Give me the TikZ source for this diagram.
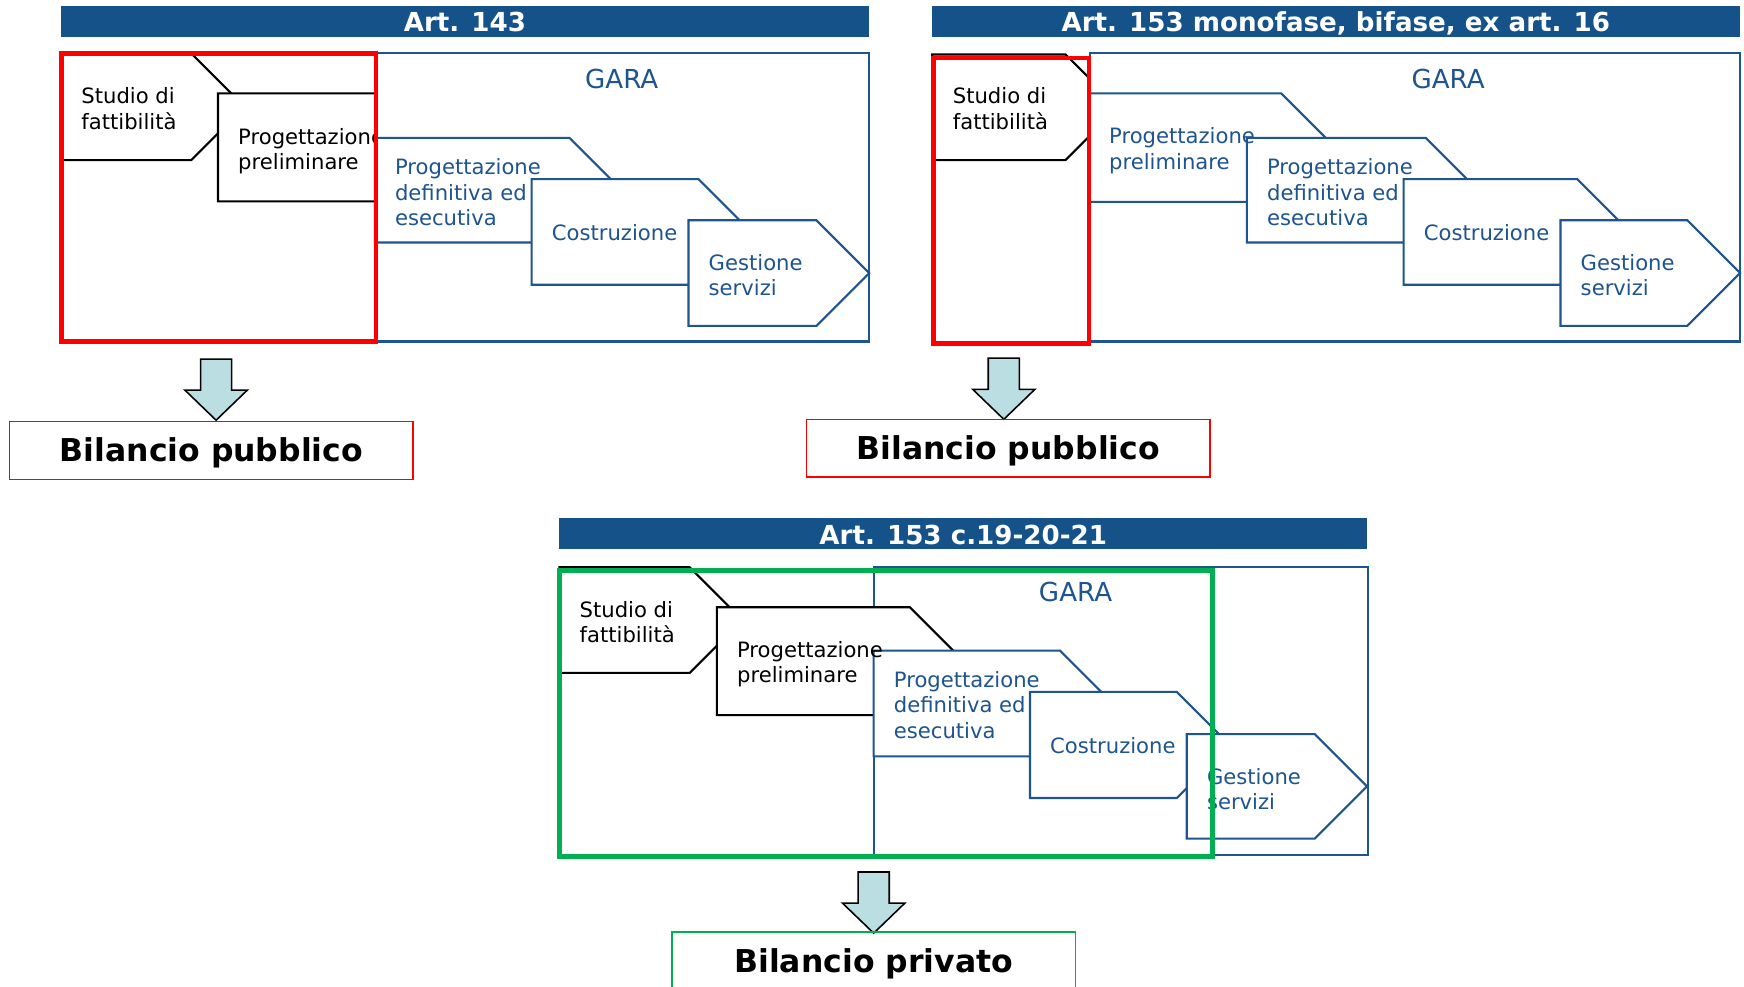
\documentclass[tikz,border=0pt]{standalone}
\usepackage{fontspec}
\setmainfont{DejaVu Sans}
\definecolor{barblue}{RGB}{22,82,138}
\definecolor{lineblue}{RGB}{30,84,143}
\definecolor{grn}{RGB}{0,176,80}
\definecolor{arrowfill}{RGB}{186,222,226}
\tikzset{
  shp/.style={line width=1.9pt, fill=white, line join=miter},
  lbl/.style={inner sep=0pt, anchor=base west, font=\fontsize{19}{23}\selectfont},
  gara/.style={text=lineblue, inner sep=0pt, font=\fontsize{23.5}{28}\selectfont},
  titlebar/.style={fill=barblue},
  titletext/.style={text=white, inner sep=0pt, text height=17pt, text depth=0pt, font=\bfseries\fontsize{23.5}{28}\selectfont},
  garabox/.style={draw=lineblue, line width=1.9pt, fill=white},
  frame/.style={line width=4.2pt},
  bil/.style={line width=1.4pt, minimum width=363pt, minimum height=52pt, inner sep=0pt, text height=20.4pt, text depth=0pt, font=\bfseries\fontsize{28.3}{33}\selectfont},
  blockarrow/.style={draw=black, line width=1.4pt, fill=arrowfill, line join=miter},
}
\newcommand\chev[5]{\path[shp,draw=#1] (#2,#3) -- (#5,#3) -- ({#5+(#4-#3)/2},{(#3+#4)/2}) -- (#5,#4) -- (#2,#4) -- cycle;}
\newcommand\downarrowshape[2]{\path[blockarrow] ({#1-14},#2) -- ({#1+14},#2) -- ({#1+14},{#2+28}) -- ({#1+28},{#2+28}) -- (#1,{#2+55}) -- ({#1-28},{#2+28}) -- ({#1-14},{#2+28}) -- cycle;}
\newcommand\twol[2]{\begin{tabular}[t]{@{}l@{}}#1\\#2\end{tabular}}
\newcommand\threel[3]{\begin{tabular}[t]{@{}l@{}}#1\\#2\\#3\end{tabular}}
\begin{document}
\begin{tikzpicture}[x=1pt,y=-1pt]
\path[use as bounding box] (0,0) rectangle (1568,887);
\clip (0,0) rectangle (1568,887);

% ---------------- Panel 1: Art. 143
\fill[titlebar] (55,5) rectangle (781,33);
\node[titletext] (t1) at (418,20) {Art. 143};
\chev{black}{55}{48}{144}{172}
\chev{black}{196}{84}{181}{370}
\node[lbl] (s1) at (73,93) {\twol{Studio di}{fattibilità}};
\node[lbl] (p1) at (214,129.5) {\twol{Progettazione}{preliminare}};
\path[garabox] (338,48) rectangle (781,307);
\chev{lineblue}{337}{124}{218}{512}
\chev{lineblue}{478}{161}{256}{628}
\chev{lineblue}{619}{198}{293}{734}
\node[lbl,text=lineblue] (d1) at (355,157) {\threel{Progettazione}{definitiva ed}{esecutiva}};
\node[lbl,text=lineblue] (c1) at (496,216.5) {Costruzione};
\node[lbl,text=lineblue] (g1) at (637,243) {\twol{Gestione}{servizi}};
\node[gara] (ga1) at (559,71) {GARA};
\draw[frame,red] (55,48) rectangle (338,307);
\downarrowshape{194.3}{322.8}
\node[bil,draw=red] (b1) at (190,405) {Bilancio pubblico};

% ---------------- Panel 2: Art. 153 monofase
\fill[titlebar] (838,5) rectangle (1564,33);
\node[titletext] (t2) at (1201,20) {Art. 153 monofase, bifase, ex art. 16};
\chev{black}{838}{49}{144}{958}
\path[garabox] (980,48) rectangle (1564,307);
\chev{lineblue}{979}{84}{181.5}{1152}
\chev{lineblue}{1121}{124}{218}{1282}
\chev{lineblue}{1262}{161}{256}{1418}
\chev{lineblue}{1403}{198}{293}{1517}
\node[lbl] (s2) at (856.5,93) {\twol{Studio di}{fattibilità}};
\node[lbl,text=lineblue] (p2) at (997,129) {\twol{Progettazione}{preliminare}};
\node[lbl,text=lineblue] (d2) at (1139,157) {\threel{Progettazione}{definitiva ed}{esecutiva}};
\node[lbl,text=lineblue] (c2) at (1280,216.5) {Costruzione};
\node[lbl,text=lineblue] (g2) at (1421,243) {\twol{Gestione}{servizi}};
\node[gara] (ga2) at (1302,71) {GARA};
\draw[frame,red] (839,52) rectangle (979,309);
\downarrowshape{902.5}{322}
\node[bil,draw=red] (b2) at (906.5,403) {Bilancio pubblico};

% ---------------- Panel 3: Art. 153 c.19-20-21
\fill[titlebar] (503,466) rectangle (1229,493.5);
\node[titletext] (t3) at (866,481) {Art. 153 c.19-20-21};
\path[garabox] (786,510) rectangle (1230,768.5);
\chev{black}{503}{510}{605}{620}
\chev{black}{644.5}{546}{643}{818}
\chev{lineblue}{785.5}{585}{680}{953}
\chev{lineblue}{926}{622}{717.5}{1058}
\chev{lineblue}{1067}{660}{754}{1182}
\node[lbl] (s3) at (521,555) {\twol{Studio di}{fattibilità}};
\node[lbl] (p3) at (662.5,591) {\twol{Progettazione}{preliminare}};
\node[lbl,text=lineblue] (d3) at (803.5,618) {\threel{Progettazione}{definitiva ed}{esecutiva}};
\node[lbl,text=lineblue] (c3) at (944,677.5) {Costruzione};
\node[lbl,text=lineblue] (g3) at (1085,705) {\twol{Gestione}{servizi}};
\node[gara] (ga3) at (967,532) {GARA};
\draw[frame,grn] (503,513) rectangle (1090,770);
\downarrowshape{785.5}{784}
\node[bil,draw=grn] (b3) at (785.5,864) {Bilancio privato};
\end{tikzpicture}
\end{document}
